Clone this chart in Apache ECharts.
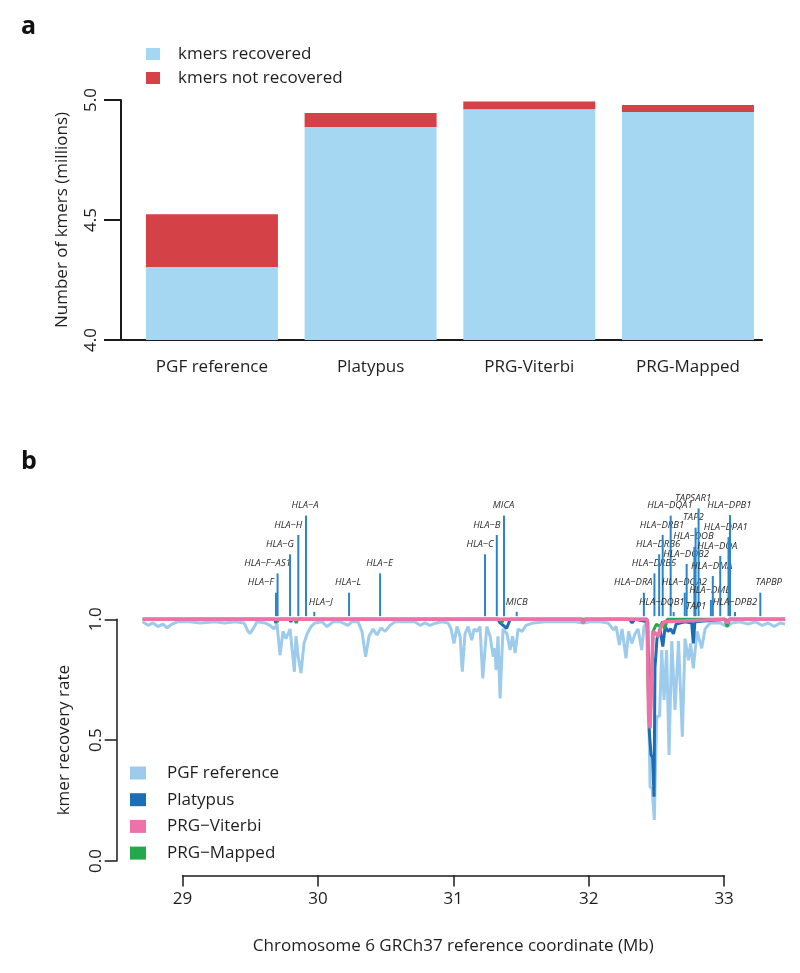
<!DOCTYPE html>
<html>
<head>
<meta charset="utf-8">
<script src="https://cdn.jsdelivr.net/npm/echarts@6/dist/echarts.min.js"></script>
<style>html,body{margin:0;padding:0;background:#fff}#c{width:800px;height:973px}</style>
</head>
<body>
<div id="c"></div>
<script>
// ---------- Panel a data ----------
const categories = ['PGF reference', 'Platypus', 'PRG-Viterbi', 'PRG-Mapped'];
const kmersRecovered = [4.304, 4.888, 4.961, 4.950];
const kmersNotRecovered = [0.220, 0.058, 0.033, 0.029];
const yTicksA = [4.0, 4.5, 5.0];

// ---------- Panel b data ----------
const xTicksB = [29, 30, 31, 32, 33];
const yTicksB = [0.0, 0.5, 1.0];

const pgfMb = [28.706,28.745,28.782,28.819,28.856,28.886,28.922,28.967,29.055,29.13,29.24,29.31,29.39,29.454,29.484,29.499,29.521,29.55,29.609,29.646,29.676,29.698,29.720,29.742,29.764,29.794,29.826,29.838,29.853,29.875,29.897,29.92,29.949,29.978,30.03,30.067,30.111,30.163,30.222,30.252,30.296,30.325,30.352,30.377,30.407,30.436,30.466,30.496,30.532,30.569,30.643,30.717,30.754,30.791,30.828,30.872,30.917,30.961,30.983,31.005,31.027,31.05,31.066,31.086,31.109,31.136,31.153,31.175,31.197,31.217,31.247,31.271,31.295,31.308,31.315,31.33,31.345,31.367,31.396,31.419,31.437,31.456,31.478,31.507,31.537,31.589,31.677,31.788,31.899,31.958,32.010,32.083,32.143,32.182,32.202,32.226,32.246,32.275,32.294,32.318,32.342,32.364,32.391,32.408,32.431,32.44,32.453,32.468,32.484,32.502,32.523,32.539,32.556,32.575,32.593,32.613,32.637,32.663,32.691,32.711,32.736,32.752,32.772,32.8,32.834,32.859,32.896,32.97,33.022,33.058,33.117,33.177,33.229,33.281,33.324,33.369,33.413,33.45];
const pgfRate = [0.99,0.975,0.985,0.97,0.98,0.965,0.98,0.99,0.99,0.985,0.99,0.985,0.99,0.985,0.95,0.942,0.96,0.99,0.985,0.975,0.96,0.98,0.852,0.95,0.92,0.96,0.783,0.93,0.85,0.777,0.90,0.94,0.97,0.985,0.99,0.97,0.99,0.99,0.975,0.99,0.99,0.95,0.845,0.93,0.96,0.935,0.965,0.95,0.975,0.99,0.99,0.99,0.975,0.985,0.975,0.985,0.99,0.985,0.96,0.90,0.97,0.93,0.783,0.94,0.97,0.914,0.96,0.95,0.97,0.756,0.97,0.93,0.845,0.88,0.79,0.93,0.673,0.96,0.94,0.873,0.93,0.86,0.96,0.95,0.975,0.985,0.99,0.99,0.99,0.985,0.99,0.99,0.985,0.956,0.97,0.894,0.96,0.839,0.95,0.90,0.94,0.96,0.873,0.97,0.99,0.99,0.307,0.30,0.17,0.597,0.60,0.873,0.666,0.873,0.439,0.91,0.625,0.91,0.514,0.92,0.83,0.90,0.797,0.95,0.88,0.96,0.985,0.985,0.97,0.985,0.99,0.98,0.99,0.975,0.985,0.97,0.985,0.98];

const platypusMb = [28.706,29.68,29.69,29.70,29.79,29.80,29.81,31.33,31.345,31.394,31.42,31.95,31.958,31.97,32.30,32.32,32.34,32.436,32.447,32.46,32.471,32.482,32.489,32.504,32.526,32.547,32.564,32.586,32.605,32.625,32.645,32.711,32.76,32.772,32.784,33.01,33.022,33.035,33.45];
const platypusRate = [1.0,1.0,0.985,1.0,1.0,0.99,1.0,1.0,0.985,0.963,1.0,1.0,0.985,1.0,1.0,0.985,1.0,0.99,0.535,0.439,0.43,0.266,0.80,0.92,0.96,0.887,0.97,0.95,0.96,0.94,0.98,0.99,0.985,0.90,0.99,1.0,0.985,1.0,1.0];

const viterbiMb = [28.706,31.94,31.958,31.975,32.431,32.442,32.453,32.464,32.475,32.497,32.514,32.534,32.556,33.00,33.022,33.04,33.45];
const viterbiRate = [1.0,1.0,0.99,1.0,1.0,0.60,0.549,0.549,0.95,0.94,0.928,0.97,0.99,1.0,0.985,1.0,1.0];

const mappedMb = [28.706,29.69,29.70,29.71,29.83,29.84,29.85,31.345,31.357,31.37,32.431,32.442,32.453,32.464,32.475,32.50,32.527,32.545,32.56,32.58,33.005,33.022,33.04,33.45];
const mappedRate = [1.0,1.0,0.99,1.0,1.0,0.985,1.0,1.0,0.985,1.0,1.0,0.62,0.57,0.57,0.95,0.98,0.97,0.99,0.96,1.0,1.0,0.97,1.0,1.0];

const geneNames = ['HLA−F','HLA−F−AS1','HLA−G','HLA−H','HLA−A','HLA−J','HLA−L','HLA−E','HLA−C','HLA−B','MICA','MICB',
  'HLA−DRA','HLA−DRB5','HLA−DRB6','HLA−DRB1','HLA−DQA1','HLA−DQB1','HLA−DQA2','HLA−DQB2','HLA−DOB','TAP2','TAPSAR1','TAP1',
  'HLA−DMB','HLA−DMA','HLA−DOA','HLA−DPA1','HLA−DPB1','HLA−DPB2','TAPBP'];
const geneMb = [29.690,29.702,29.794,29.855,29.912,29.973,30.230,30.459,31.234,31.321,31.374,31.468,
  32.407,32.485,32.520,32.546,32.605,32.627,32.709,32.723,32.780,32.789,32.811,32.812,
  32.902,32.916,32.971,33.032,33.043,33.080,33.267];
const geneLevel = [1.110,1.190,1.269,1.349,1.429,1.031,1.110,1.190,1.269,1.349,1.429,1.031,
  1.110,1.190,1.269,1.349,1.429,1.030,1.110,1.229,1.300,1.379,1.459,1.013,
  1.080,1.179,1.262,1.340,1.431,1.030,1.110];
const geneLabelMb = [29.578,29.628,29.720,29.781,29.905,30.021,30.222,30.455,31.197,31.247,31.371,31.468,
  32.329,32.482,32.512,32.541,32.600,32.539,32.706,32.719,32.773,32.773,32.770,32.792,
  32.896,32.908,32.950,33.012,33.038,33.080,33.329];

// ---------- styling ----------
const FONT = 'Open Sans';
const TXT = '#1e1e1e';
const AX = '#1a1a1a';
const C_REC = '#a5d7f2', C_NOT = '#d44146';
const C_PGF = '#9dcbeb', C_PLAT = '#1c6db3', C_VIT = '#ee72aa', C_MAP = '#25a84a', C_GENE = '#2b85c7';

const zip = (xs, ys) => xs.map((x, i) => [x, ys[i]]);
const geneData = geneMb.map((m, i) => [m, geneLevel[i], geneLabelMb[i]]);

const chart = echarts.init(document.getElementById('c'), null, {renderer: 'canvas'});
const option = {
  animation: false,
  backgroundColor: '#fff',
  textStyle: {fontFamily: FONT, color: TXT},
  title: [
    {text: 'a', left: 21, top: 14, padding: 0, textStyle: {fontFamily: FONT, fontSize: 25, fontWeight: 'bold', color: '#111'}},
    {text: 'b', left: 21, top: 449, padding: 0, textStyle: {fontFamily: FONT, fontSize: 25, fontWeight: 'bold', color: '#111'}}
  ],
  legend: [
    {
      data: ['kmers recovered', 'kmers not recovered'],
      orient: 'vertical', left: 146, top: 44, padding: 0,
      icon: 'rect', itemWidth: 14, itemHeight: 12, itemGap: 4,
      textStyle: {fontFamily: FONT, fontSize: 17, color: TXT, lineHeight: 20, padding: [0, 0, 0, 13]}
    },
    {
      data: ['PGF reference', 'Platypus', 'PRG−Viterbi', 'PRG−Mapped'],
      orient: 'vertical', left: 130, top: 763, padding: 0,
      icon: 'rect', itemWidth: 16, itemHeight: 13, itemGap: 6.7,
      textStyle: {fontFamily: FONT, fontSize: 17, color: TXT, lineHeight: 20, padding: [0, 0, 0, 16]}
    }
  ],
  grid: [
    {left: 132.6, width: 634.7, top: 100, height: 240},
    {left: 121, width: 641, top: 335, height: 5},
    {left: 141.9, width: 643.2, top: 498.45, height: 362.55},
    {left: 116.7, width: 10, top: 619.3, height: 241.7},
    {left: 182.5, width: 541.6, top: 870, height: 5.6}
  ],
  xAxis: [
    {gridIndex: 0, type: 'category', data: categories,
      axisLine: {show: false}, axisTick: {show: false},
      axisLabel: {fontFamily: FONT, fontSize: 17, color: TXT, margin: 19}},
    {gridIndex: 1, type: 'value', min: 0, max: 1, position: 'bottom',
      axisLine: {show: true, lineStyle: {color: AX, width: 2}}, axisTick: {show: false},
      axisLabel: {show: false}, splitLine: {show: false}},
    {gridIndex: 2, type: 'value', min: 28.70, max: 33.45, show: false, splitLine: {show: false}},
    {gridIndex: 3, type: 'value', min: 0, max: 1, show: false, splitLine: {show: false}},
    {gridIndex: 4, type: 'value', min: xTicksB[0], max: xTicksB[xTicksB.length - 1], interval: 1,
      position: 'bottom',
      axisLine: {show: true, onZero: false, lineStyle: {color: AX, width: 1.5}},
      axisTick: {show: true, length: 11, lineStyle: {color: AX, width: 1.5}},
      axisLabel: {fontFamily: FONT, fontSize: 17, color: TXT, margin: 15},
      splitLine: {show: false},
      name: 'Chromosome 6 GRCh37 reference coordinate (Mb)', nameLocation: 'middle', nameGap: 62,
      nameTextStyle: {fontFamily: FONT, fontSize: 17, color: TXT}}
  ],
  yAxis: [
    {gridIndex: 0, type: 'value', min: yTicksA[0], max: yTicksA[yTicksA.length - 1], interval: 0.5,
      offset: 11.6,
      axisLine: {show: true, lineStyle: {color: AX, width: 2}},
      axisTick: {show: true, length: 17, lineStyle: {color: AX, width: 2}},
      axisLabel: {fontFamily: FONT, fontSize: 17, color: TXT, rotate: 90, margin: 21,
        formatter: v => v.toFixed(1)},
      splitLine: {show: false},
      name: 'Number of kmers (millions)', nameLocation: 'middle', nameGap: 50,
      nameTextStyle: {fontFamily: FONT, fontSize: 17, color: TXT}},
    {gridIndex: 1, type: 'value', min: 0, max: 1, show: false, splitLine: {show: false}},
    {gridIndex: 2, type: 'value', min: 0, max: 1.5, show: false, splitLine: {show: false}},
    {gridIndex: 3, type: 'value', min: yTicksB[0], max: yTicksB[yTicksB.length - 1], interval: 0.5,
      axisLine: {show: true, lineStyle: {color: AX, width: 1.5}},
      axisTick: {show: true, length: 12, lineStyle: {color: AX, width: 1.5}},
      axisLabel: {fontFamily: FONT, fontSize: 17, color: TXT, rotate: 90, margin: 12,
        formatter: v => v.toFixed(1)},
      splitLine: {show: false},
      name: 'kmer recovery rate', nameLocation: 'middle', nameGap: 44,
      nameTextStyle: {fontFamily: FONT, fontSize: 17, color: TXT}},
    {gridIndex: 4, type: 'value', min: 0, max: 1, show: false, splitLine: {show: false}}
  ],
  series: [
    {name: 'kmers recovered', type: 'bar', xAxisIndex: 0, yAxisIndex: 0, stack: 'k',
      data: kmersRecovered, barWidth: 132, itemStyle: {color: C_REC}, emphasis: {disabled: true}},
    {name: 'kmers not recovered', type: 'bar', xAxisIndex: 0, yAxisIndex: 0, stack: 'k',
      data: kmersNotRecovered, barWidth: 132, itemStyle: {color: C_NOT}, emphasis: {disabled: true}},
    {name: 'genes', type: 'custom', xAxisIndex: 2, yAxisIndex: 2, z: 1, data: geneData,
      renderItem: function (params, api) {
        const base = api.coord([api.value(0), 1.013]);
        const top = api.coord([api.value(0), api.value(1)]);
        const lab = api.coord([api.value(2), api.value(1)]);
        return {type: 'group', children: [
          {type: 'line', shape: {x1: base[0], y1: base[1], x2: top[0], y2: top[1]},
            style: {stroke: C_GENE, lineWidth: 2}},
          {type: 'text', x: lab[0], y: lab[1] - 10,
            style: {text: geneNames[params.dataIndex], fontFamily: FONT, fontSize: 9.5, fontStyle: 'italic',
              fill: '#2a2a2a', align: 'center', verticalAlign: 'middle'}}
        ]};
      }},
    {name: 'PGF reference', type: 'line', xAxisIndex: 2, yAxisIndex: 2, z: 2, data: zip(pgfMb, pgfRate),
      symbol: 'none', color: C_PGF, lineStyle: {color: C_PGF, width: 3}, emphasis: {disabled: true}},
    {name: 'Platypus', type: 'line', xAxisIndex: 2, yAxisIndex: 2, z: 3, data: zip(platypusMb, platypusRate),
      symbol: 'none', color: C_PLAT, lineStyle: {color: C_PLAT, width: 3}, emphasis: {disabled: true}},
    {name: 'PRG−Mapped', type: 'line', xAxisIndex: 2, yAxisIndex: 2, z: 4, data: zip(mappedMb, mappedRate),
      symbol: 'none', color: C_MAP, lineStyle: {color: C_MAP, width: 3}, emphasis: {disabled: true}},
    {name: 'PRG−Viterbi', type: 'line', xAxisIndex: 2, yAxisIndex: 2, z: 5, data: zip(viterbiMb, viterbiRate),
      symbol: 'none', color: C_VIT, lineStyle: {color: C_VIT, width: 3.5}, emphasis: {disabled: true}}
  ]
};
chart.setOption(option);
</script>
</body>
</html>
